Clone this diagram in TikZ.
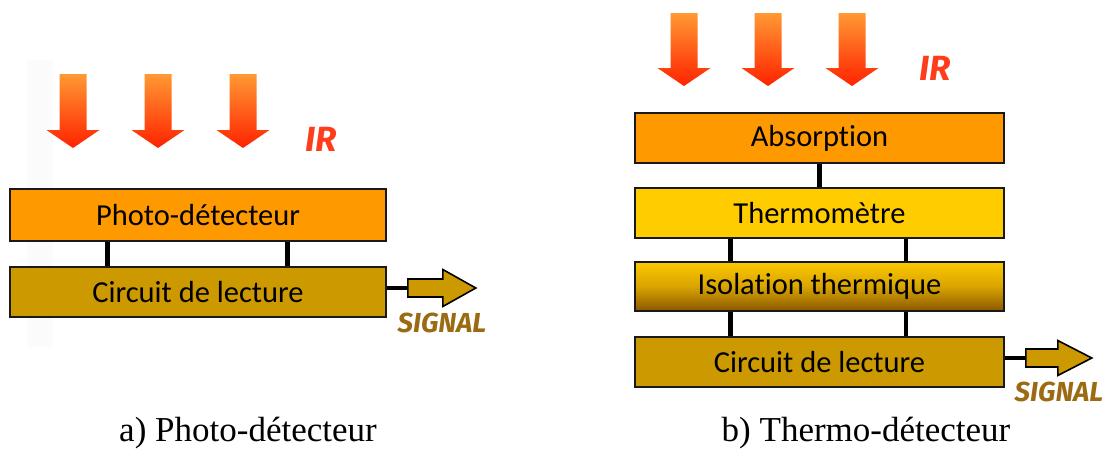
\documentclass[tikz,border=0pt]{standalone}
\usepackage{fontspec}
\usetikzlibrary{calc}
\newfontfamily\boxfont[Ligatures={NoCommon,NoContextual}]{Carlito}
\newfontfamily\capfont{Liberation Serif}
\newfontfamily\comicfont{Fira Sans}
\definecolor{orangebox}{HTML}{FF9900}
\definecolor{yellowbox}{HTML}{FFCC00}
\definecolor{circbox}{HTML}{CC9900}
\definecolor{irred}{HTML}{FF3D1A}
\definecolor{sigbrown}{HTML}{9B6B14}
\definecolor{arrtop}{HTML}{FF9933}
\definecolor{arrbot}{HTML}{FF2200}
\definecolor{isotop}{HTML}{FCC800}
\definecolor{isomid}{HTML}{D9A400}
\definecolor{isobot}{HTML}{8A5800}
\newcommand\irarrow[3]{% cx, top, headstart
  \shade[top color=arrtop,bottom color=arrbot]
    (#1-13.5,#2) -- (#1+13.5,#2) -- (#1+13.5,#3) -- (#1+26.5,#3)
    -- (#1,#3+18) -- (#1-26.5,#3) -- (#1-13.5,#3) -- cycle;}
\begin{document}
\begin{tikzpicture}[x=1pt,y=-1pt,
  layer/.style={draw=black!90,line width=1.6pt,minimum width=376pt,inner sep=0pt,
    font=\boxfont\fontsize{30.5}{34}\selectfont},
  conn/.style={line width=4.5pt,black},
  sigarrow/.style={draw=black,line width=1.6pt,fill=circbox,line join=miter},
  irlabel/.style={text=irred,font=\comicfont\bfseries\itshape\fontsize{35}{38}\selectfont},
  siglabel/.style={text=sigbrown,font=\comicfont\bfseries\itshape\fontsize{27.5}{30}\selectfont},
  caption/.style={anchor=base,font=\capfont\fontsize{35}{40}\selectfont}]
\useasboundingbox (0,0) rectangle (1108,448);
\fill[black!1.5] (27,60) rectangle (53,347);
% ---------- left: photo-detecteur
\irarrow{73}{74}{130}
\irarrow{158}{74}{130}
\irarrow{243}{74}{130}
\node[irlabel] (ir1) at (321,139) {IR};
\node[layer,fill=orangebox,minimum height=52pt] (photo) at (198,215) {Photo-détecteur};
\node[layer,fill=circbox,minimum height=50pt] (circ1) at (198,292) {Circuit de lecture};
\draw[conn] ($(photo.south west)!0.26!(photo.south east)$) -- ($(circ1.north west)!0.26!(circ1.north east)$);
\draw[conn] ($(photo.south west)!0.737!(photo.south east)$) -- ($(circ1.north west)!0.737!(circ1.north east)$);
\coordinate (t1) at ($(circ1.east)+(21,-4)$);
\draw[conn] (circ1.east|-t1) -- (t1);
\draw[sigarrow] (t1) ++(0,-9) -- ++(35,0) -- ++(0,-9.5) -- ++(33,18.5) -- ++(-33,18.5) -- ++(0,-9.5) -- ++(-35,0) -- cycle;
\node[siglabel] (sig1) at (442,323) {SIGNAL};
\node[caption] (capa) at (248,441) {a) Photo-détecteur};
% ---------- right: thermo-detecteur
\irarrow{684}{13}{68}
\irarrow{768}{13}{68}
\irarrow{852}{13}{68}
\node[irlabel] (ir2) at (935,68) {IR};
\node[layer,fill=orangebox,minimum width=369pt,minimum height=50pt] (abs) at (819.5,138) {Absorption};
\node[layer,fill=yellowbox,minimum width=369pt,minimum height=50pt] (thermo) at (819.5,213) {Thermomètre};
\shade[top color=isotop,bottom color=isobot,middle color=isomid] (635,262) rectangle (1004,311);
\node[layer,minimum width=369pt,minimum height=49pt] (iso) at (819.5,286.5) {Isolation thermique};
\node[layer,fill=circbox,minimum width=369pt,minimum height=50pt] (circ2) at (819.5,362) {Circuit de lecture};
\draw[conn] (abs.south) -- (thermo.north);
\draw[conn] ($(thermo.south west)!0.26!(thermo.south east)$) -- ($(iso.north west)!0.26!(iso.north east)$);
\draw[conn] ($(thermo.south west)!0.734!(thermo.south east)$) -- ($(iso.north west)!0.734!(iso.north east)$);
\draw[conn] ($(iso.south west)!0.26!(iso.south east)$) -- ($(circ2.north west)!0.26!(circ2.north east)$);
\draw[conn] ($(iso.south west)!0.734!(iso.south east)$) -- ($(circ2.north west)!0.734!(circ2.north east)$);
\coordinate (t2) at ($(circ2.east)+(21,-4)$);
\draw[conn] (circ2.east|-t2) -- (t2);
\draw[sigarrow] (t2) ++(0,-9) -- ++(32,0) -- ++(0,-8.5) -- ++(34,17.5) -- ++(-34,17.5) -- ++(0,-8.5) -- ++(-32,0) -- cycle;
\node[siglabel] (sig2) at (1059,392) {SIGNAL};
\node[caption] (capb) at (866,441) {b) Thermo-détecteur};
\end{tikzpicture}
\end{document}
